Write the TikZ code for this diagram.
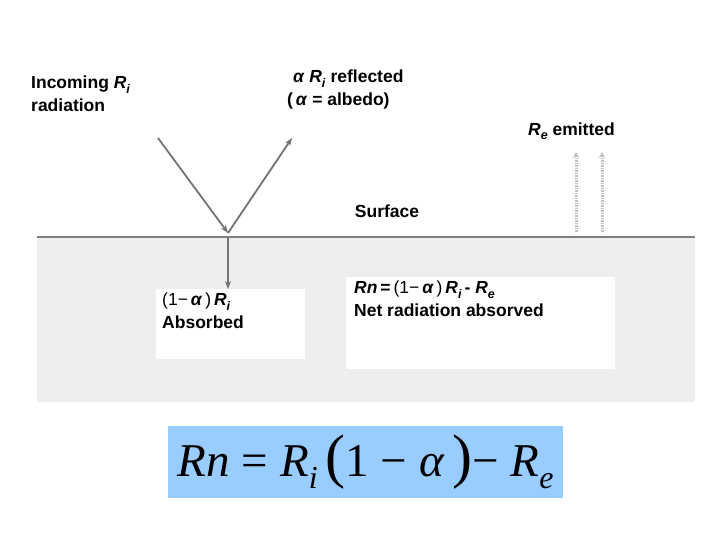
\documentclass[tikz,border=0pt]{standalone}
\usepackage{fontspec}
\setmainfont{Liberation Sans}
\newfontfamily\eqfont{Liberation Serif}
\usetikzlibrary{arrows.meta}
\newcommand{\sbi}[1]{\raisebox{-0.25em}{\fontsize{12.5}{13}\selectfont\textit{#1}}}
\begin{document}
\begin{tikzpicture}[x=1pt,y=-1pt,
  lbl/.style={font=\bfseries\fontsize{17.5}{23}\selectfont,inner sep=0pt,align=left},
  ray/.style={draw=gray!90!black,line width=1.8pt,-{Stealth[length=8pt,width=6pt]}},
  emit/.style={draw=gray!50,line width=3pt,dash pattern=on 1.5pt off 1pt,-{Stealth[length=6pt,width=6pt]}},
  box/.style={fill=white,draw=none}]
\useasboundingbox (0,0) rectangle (720,540);
\fill[gray!13] (37,237) rectangle (695,402);
\draw[gray,line width=2.5pt] (37,237) -- (695,237);
\node[box,minimum width=149pt,minimum height=70pt,anchor=north west] (b1) at (156,289) {};
\node[box,minimum width=269pt,minimum height=92pt,anchor=north west] (b2) at (346,277) {};
\coordinate (s) at (158,138);
\coordinate (p) at (228,233);
\coordinate (r) at (292,138);
\coordinate (q) at (228,238);
\draw[ray] (s) -- (p);
\draw[ray] (p) -- (r);
\draw[ray,line width=1.2pt] (q) -- (b1.north -| q);
\coordinate (e1a) at (576,232); \coordinate (e1b) at (576,152);
\coordinate (e2a) at (602,232); \coordinate (e2b) at (602,152);
\draw[emit] (e1a) -- (e1b);
\draw[emit] (e2a) -- (e2b);
\node[lbl,anchor=north west] (inc) at (31,76) {Incoming \textit{R}\sbi{i}\\radiation};
\node[lbl,anchor=north west] (refl) at (287,70) {\,\,\textit{α} \textit{R}\sbi{i} reflected\\(\,\textit{α} = albedo)};
\node[lbl,anchor=east] (emt) at (615,131) {\textit{R}\sbi{e} emitted};
\node[lbl] (surf) at (387,211) {Surface};
\node[lbl,anchor=north west] (abs) at (162,293) {\mdseries(1−\,\bfseries\textit{α}\mdseries\,)\,\bfseries\textit{R}\sbi{i}\\Absorbed};
\node[lbl,anchor=north west] (net) at (354,281) {\textit{Rn}\,=\,\mdseries(1−\,\bfseries\textit{α}\mdseries\,)\,\bfseries\textit{R}\sbi{i}\,- \textit{R}\sbi{e}\\Net radiation absorved};
\node[fill={rgb,255:red,153;green,204;blue,255},minimum width=395pt,minimum height=72pt,anchor=north west,inner sep=0pt] (eqb) at (168,426) {};
\node[font=\eqfont\fontsize{47}{50}\selectfont,inner sep=0pt] (eq) at (eqb.center) {\textit{Rn} = \textit{R}\raisebox{-0.25em}{\fontsize{32}{34}\selectfont\textit{i}}\,{\fontsize{60}{62}\selectfont(}1 − \textit{α}\,{\fontsize{60}{62}\selectfont)}− \textit{R}\raisebox{-0.25em}{\fontsize{32}{34}\selectfont\textit{e}}};
\end{tikzpicture}
\end{document}
